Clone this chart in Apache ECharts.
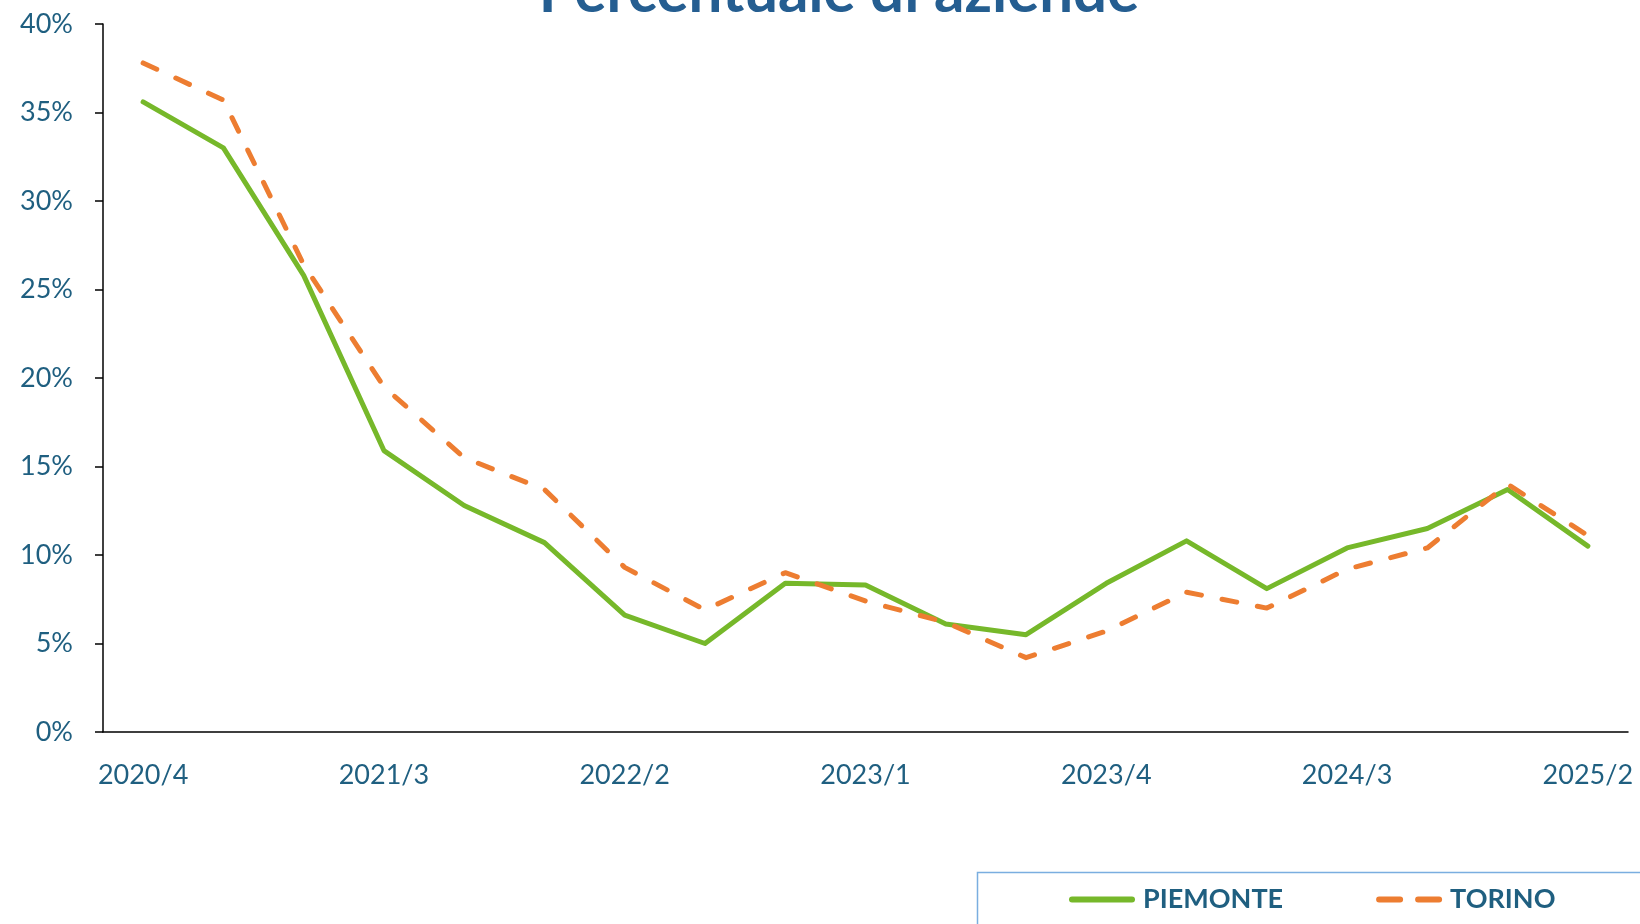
<!DOCTYPE html>
<html>
<head>
<meta charset="utf-8">
<title>Percentuale di aziende</title>
<script src="https://cdn.jsdelivr.net/npm/echarts@6/dist/echarts.min.js"></script>
<style>
	html, body {
		margin: 0;
		padding: 0;
		background: #ffffff;
	}

	#chart {
		width: 1640px;
		height: 924px;
	}
</style>
</head>
<body>
<div id="chart"></div>
<script>
	// trimestri (anno/trimestre)
	var quarters = ['2020/4', '2021/1', '2021/2', '2021/3', '2021/4', '2022/1', '2022/2', '2022/3', '2022/4',
		'2023/1', '2023/2', '2023/3', '2023/4', '2024/1', '2024/2', '2024/3', '2024/4', '2025/1', '2025/2'];

	// valori in %
	var piemonte = [35.6, 33.0, 25.8, 15.9, 12.8, 10.7, 6.6, 5.0, 8.4, 8.3, 6.1, 5.5, 8.4, 10.8, 8.1, 10.4, 11.5, 13.7, 10.5];
	var torino = [37.8, 35.7, 26.4, 19.5, 15.5, 13.7, 9.3, 6.9, 9.0, 7.4, 6.2, 4.2, 5.7, 7.9, 7.0, 9.2, 10.4, 14.0, 11.1];

	var textColor = '#1f5f80';
	var fontName = 'Lato, "Open Sans", sans-serif';

	// icone legenda: linea piena e linea tratteggiata
	var solidIcon = 'path://M3,0 H63 A3,3 0 0 1 63,6 H3 A3,3 0 0 1 3,0 Z';
	var dashIcon = 'path://M3,0 H24 A3,3 0 0 1 24,6 H3 A3,3 0 0 1 3,0 Z M42,0 H63 A3,3 0 0 1 63,6 H42 A3,3 0 0 1 42,0 Z';

	var myChart = echarts.init(document.getElementById('chart'));
	var option = {
		backgroundColor: '#ffffff',
		animation: false,
		title: {
			text: 'Percentuale di aziende',
			left: 834,
			textAlign: 'center',
			top: -42,
			textStyle: {
				color: '#255e91',
				fontFamily: fontName,
				fontWeight: 'bold',
				fontSize: 60
			}
		},
		grid: {
			left: 103,
			right: 12,
			top: 24,
			bottom: 192
		},
		// riquadro della legenda
		graphic: [{
			type: 'rect',
			left: 975,
			top: 870,
			shape: { width: 720, height: 100 },
			style: { fill: 'none', stroke: '#7aaee0', lineWidth: 1.5 }
		}],
		legend: {
			left: 1069,
			top: 886,
			padding: 0,
			itemWidth: 66,
			itemHeight: 6,
			itemGap: 93,
			textStyle: {
				color: textColor,
				fontFamily: fontName,
				fontWeight: 'bold',
				fontSize: 27,
				padding: [0, 0, 0, 3]
			},
			data: [
				{ name: 'PIEMONTE', icon: solidIcon },
				{ name: 'TORINO', icon: dashIcon }
			]
		},
		xAxis: {
			type: 'category',
			boundaryGap: true,
			data: quarters,
			axisLine: {
				lineStyle: { color: '#000000', width: 1.5 }
			},
			axisTick: {
				interval: 0,
				length: 9,
				lineStyle: { color: '#000000', width: 1.5 }
			},
			axisLabel: {
				interval: 2,
				margin: 30,
				color: textColor,
				fontFamily: fontName,
				fontSize: 27
			},
			splitLine: { show: false }
		},
		yAxis: {
			type: 'value',
			min: 0,
			max: 40,
			interval: 5,
			axisLine: {
				show: true,
				lineStyle: { color: '#000000', width: 1.5 }
			},
			axisTick: {
				show: true,
				length: 8,
				lineStyle: { color: '#000000', width: 1.5 }
			},
			axisLabel: {
				margin: 30,
				color: textColor,
				fontFamily: fontName,
				fontSize: 27,
				formatter: '{value}%'
			},
			splitLine: { show: false }
		},
		series: [{
			name: 'PIEMONTE',
			type: 'line',
			data: piemonte,
			symbol: 'none',
			color: '#76b82a',
			lineStyle: { color: '#76b82a', width: 5, cap: 'round', join: 'round' }
		}, {
			name: 'TORINO',
			type: 'line',
			data: torino,
			symbol: 'none',
			color: '#ed7d31',
			lineStyle: { color: '#ed7d31', width: 5, type: [15, 21], cap: 'round', join: 'round' }
		}]
	};
	myChart.setOption(option);
</script>
</body>
</html>
